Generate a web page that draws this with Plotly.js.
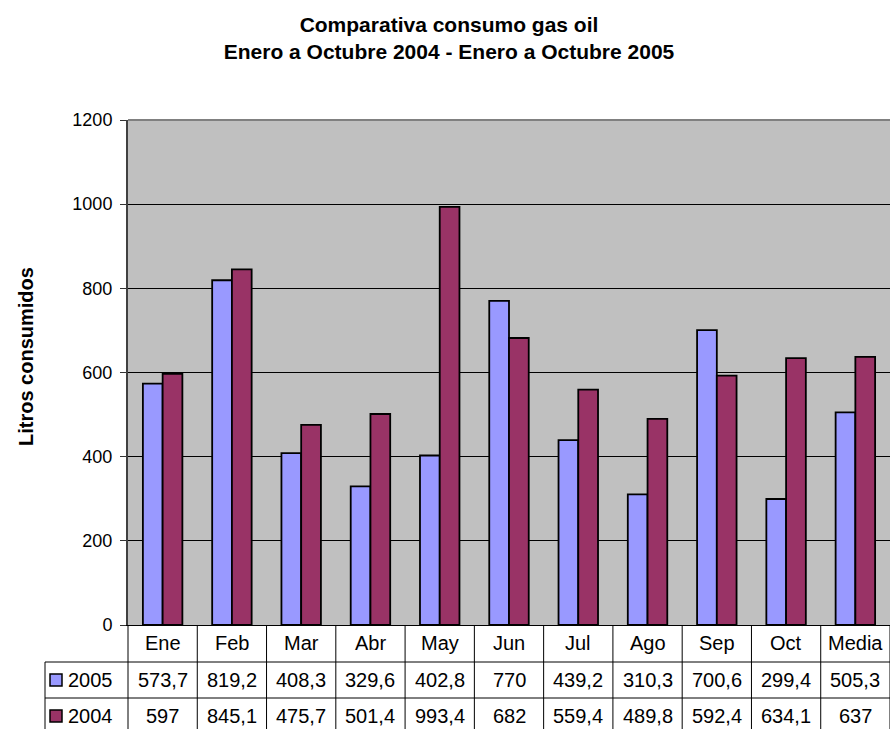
<!DOCTYPE html>
<html>
<head>
<meta charset="utf-8">
<script src="https://cdn.plot.ly/plotly-3.0.1.min.js"></script>
<style>html,body{margin:0;padding:0;background:#fff;}#chart{width:890px;height:729px;}</style>
</head>
<body>
<div id="chart"></div>
<script>
const months = ['Ene','Feb','Mar','Abr','May','Jun','Jul','Ago','Sep','Oct','Media'];
const v2005 = [573.7, 819.2, 408.3, 329.6, 402.8, 770, 439.2, 310.3, 700.6, 299.4, 505.3];
const v2004 = [597, 845.1, 475.7, 501.4, 993.4, 682, 559.4, 489.8, 592.4, 634.1, 637];
const seriesNames = ['2005', '2004'];
const seriesValues = [v2005, v2004];
const seriesColors = ['#9999FF', '#993366'];
const titleLines = ['Comparativa consumo gas oil', 'Enero a Octubre 2004 - Enero a Octubre 2005'];
const yTitle = 'Litros consumidos';

const FONT = 'Liberation Sans, Arial, Helvetica, sans-serif';
const W = 890, H = 729;
const mL = 128, mR = 0, mT = 120, mB = 104;
const plotW = W - mL - mR, plotH = H - mT - mB;
const px = X => (X - mL) / plotW;          // pixel x -> paper x
const py = Y => (H - mB - Y) / plotH;       // pixel y -> paper y

const fmt = v => String(v).replace('.', ',');

const traces = seriesNames.map((name, i) => ({
  type: 'bar',
  name: name,
  x: months,
  y: seriesValues[i],
  marker: { color: seriesColors[i], line: { color: '#000000', width: 1.8 } },
  hoverinfo: 'x+y+name'
}));

// table geometry (pixels)
const rowTop = [625, 662, 698];
const rowH = 36;
const tableLeft = 45;
const N = months.length;
const TFS = 20;

const shapes = [];
// top border of plot
shapes.push({ type: 'line', xref: 'paper', yref: 'paper', x0: 0, x1: 1, y0: 1, y1: 1, line: { color: '#808080', width: 2 } });
// horizontal table lines
[662, 698].forEach(Y => shapes.push({ type: 'line', xref: 'paper', yref: 'paper', x0: px(tableLeft), x1: 1, y0: py(Y), y1: py(Y), line: { color: '#000000', width: 1 } }));
// left border of label column
shapes.push({ type: 'line', xref: 'paper', yref: 'paper', x0: px(tableLeft), x1: px(tableLeft), y0: py(662), y1: py(740), line: { color: '#000000', width: 1 } });
// column separators
for (let k = 0; k <= N; k++) {
  shapes.push({ type: 'line', xref: 'paper', yref: 'paper', x0: k / N, x1: k / N, y0: 0, y1: py(740), line: { color: '#000000', width: 1 } });
}
// legend keys
seriesNames.forEach((n, i) => {
  const cy = rowTop[i + 1] + rowH / 2;
  shapes.push({ type: 'rect', xref: 'paper', yref: 'paper', x0: px(50), x1: px(62), y0: py(cy - 6), y1: py(cy + 6), fillcolor: seriesColors[i], line: { color: '#000000', width: 1.5 } });
});

const annotations = [];
// month header
months.forEach(m => annotations.push({ x: m, xref: 'x', yref: 'paper', y: py(rowTop[0] + rowH / 2), text: m, showarrow: false, xanchor: 'center', yanchor: 'middle', font: { family: FONT, size: TFS, color: '#000' } }));
// values
seriesValues.forEach((vals, i) => {
  const cy = rowTop[i + 1] + rowH / 2;
  vals.forEach((v, j) => annotations.push({ x: months[j], xref: 'x', yref: 'paper', y: py(cy), text: fmt(v), showarrow: false, xanchor: 'center', yanchor: 'middle', font: { family: FONT, size: TFS, color: '#000' } }));
  annotations.push({ x: px(66), xref: 'paper', yref: 'paper', y: py(cy), text: seriesNames[i], showarrow: false, xanchor: 'left', yanchor: 'middle', font: { family: FONT, size: TFS, color: '#000' } });
});
// y title
annotations.push({ x: px(26), xref: 'paper', yref: 'paper', y: py(356), text: '<b>' + yTitle + '</b>', textangle: -90, showarrow: false, xanchor: 'center', yanchor: 'middle', font: { family: FONT, size: 20, color: '#000' } });

const layout = {
  width: W, height: H,
  margin: { l: mL, r: mR, t: mT, b: mB, pad: 0 },
  paper_bgcolor: '#ffffff',
  plot_bgcolor: '#C0C0C0',
  showlegend: false,
  barmode: 'group',
  bargap: 0.43,
  bargroupgap: 0,
  title: {
    text: '<b>' + titleLines.join('<br>') + '</b>',
    x: 449 / W, xref: 'container', xanchor: 'center',
    y: 1 - 32 / H, yref: 'container', yanchor: 'top',
    font: { family: FONT, size: 21, color: '#000' }
  },
  xaxis: {
    type: 'category', showticklabels: false, ticks: '', showgrid: false,
    showline: true, linecolor: '#000000', linewidth: 1, zeroline: false, fixedrange: true
  },
  yaxis: {
    range: [0, 1200], dtick: 200, tick0: 0,
    showgrid: true, gridcolor: '#000000', gridwidth: 1,
    ticks: 'outside', ticklen: 6, tickcolor: '#333333', tickwidth: 1,
    showline: true, linecolor: '#404040', linewidth: 2, zeroline: false,
    ticklabelstandoff: 4,
    tickfont: { family: FONT, size: 18, color: '#000' }, fixedrange: true
  },
  shapes: shapes,
  annotations: annotations,
  font: { family: FONT }
};

Plotly.newPlot('chart', traces, layout, { displayModeBar: false, staticPlot: true });
</script>
</body>
</html>
